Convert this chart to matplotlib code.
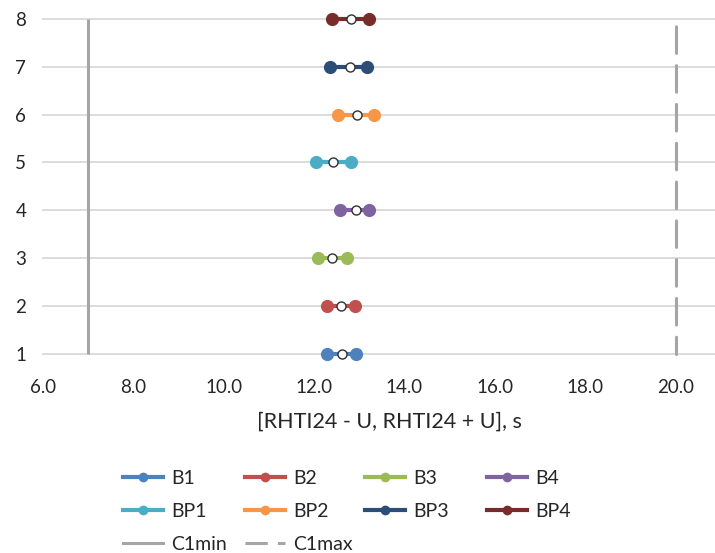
import matplotlib
matplotlib.use("Agg")
import matplotlib.pyplot as plt
from matplotlib.lines import Line2D

plt.rcParams['font.family'] = ['Lato', 'DejaVu Sans']

series = ["B1", "B2", "B3", "B4", "BP1", "BP2", "BP3", "BP4"]
positions = [1, 2, 3, 4, 5, 6, 7, 8]
lower = [12.29, 12.29, 12.08, 12.58, 12.04, 12.54, 12.36, 12.39]
center = [12.62, 12.60, 12.40, 12.92, 12.42, 12.96, 12.79, 12.81]
upper = [12.92, 12.91, 12.72, 13.22, 12.81, 13.32, 13.17, 13.22]
colors = ["#4F81BD", "#C0504D", "#9BBB59", "#8064A2",
          "#4BACC6", "#F79646", "#2C4D75", "#772C2A"]
c1min = 7.0
c1max = 20.0
xticks = [6.0, 8.0, 10.0, 12.0, 14.0, 16.0, 18.0, 20.0]
yticks = [1, 2, 3, 4, 5, 6, 7, 8]

fig = plt.figure(figsize=(7.15, 5.53), dpi=100)
ax = fig.add_axes([0.060, 0.360, 0.940, 0.6058])

for y in yticks:
    ax.axhline(y, color="#D9D9D9", lw=1.3, zorder=0, clip_on=False)

h_min, = ax.plot([c1min, c1min], [yticks[0], yticks[-1]], color="#A5A5A5",
                 lw=2.2, solid_capstyle="butt", label="C1min", zorder=2, clip_on=False)
h_max, = ax.plot([c1max, c1max], [yticks[-1], yticks[0]], color="#A5A5A5",
                 lw=2.2, linestyle=(10.3, (8.7, 4.0)), dash_capstyle="round",
                 label="C1max", zorder=2, clip_on=False)

handles = {}
for name, y, lo, c, hi, col in zip(series, positions, lower, center, upper, colors):
    h, = ax.plot([lo, hi], [y, y], color=col, lw=3.0, marker="o", markersize=9.5,
                 markeredgewidth=0, label=name, zorder=3, clip_on=False)
    ax.plot([c], [y], linestyle="none", marker="o", markersize=6.5,
            markerfacecolor="white", markeredgecolor="#303030",
            markeredgewidth=1.0, zorder=4, clip_on=False)
    handles[name] = h

ax.set_xlim(6.0, 20.87)
ax.set_ylim(1, 8)
ax.set_xticks(xticks)
ax.set_xticklabels([f"{v:.1f}" for v in xticks])
ax.set_yticks(yticks)
ax.set_yticklabels([str(v) for v in yticks])
ax.tick_params(axis="both", length=0, labelsize=13.5, colors="#262626")
ax.tick_params(axis="x", pad=18)
ax.tick_params(axis="y", pad=12)
for s in ax.spines.values():
    s.set_visible(False)

ax.set_xlabel("[RHTI24 - U, RHTI24 + U], s", fontsize=15.5, color="#262626")
ax.xaxis.set_label_coords(0.516, -0.172)


def legend_proxy(h):
    is_dashed = h is h_max
    return Line2D([], [], color=h.get_color(), lw=h.get_linewidth(),
                  linestyle=(0, (7.3, 3.3)) if is_dashed else "-",
                  marker=h.get_marker(),
                  markersize=7 if h.get_marker() == "o" else 0,
                  markeredgewidth=0)


columns = [
    [handles["B1"], handles["BP1"], h_min],
    [handles["B2"], handles["BP2"], h_max],
    [handles["B3"], handles["BP3"]],
    [handles["B4"], handles["BP4"]],
]
col_x = [123, 245, 365, 487]
W, H = 715.0, 553.0
for xs, col in zip(col_x, columns):
    leg = fig.legend([legend_proxy(h) for h in col], [h.get_label() for h in col],
                     ncol=1, loc="upper left", bbox_to_anchor=(xs / W, 1 - 470 / H),
                     frameon=False, fontsize=14, handlelength=2.06, handletextpad=0.42,
                     labelspacing=0.83, borderaxespad=0, borderpad=0)
    for t in leg.get_texts():
        t.set_color("#262626")

fig.savefig("out.png", dpi=100)
